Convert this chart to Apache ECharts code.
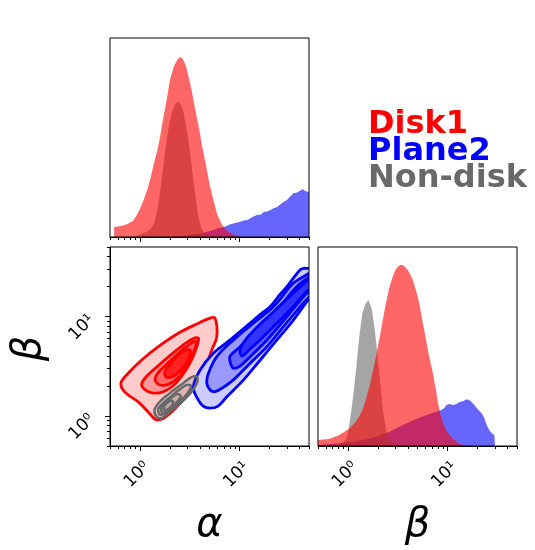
<!DOCTYPE html>
<html><head><meta charset="utf-8">
<script src="https://cdn.jsdelivr.net/npm/echarts@6/dist/echarts.min.js"></script>
<style>html,body{margin:0;padding:0;background:#fff}#c{width:535px;height:550px}</style>
</head><body><div id="c"></div>
<script>
// ---------- names / colours ----------
const seriesNames = ['Disk1', 'Plane2', 'Non-disk'];
const seriesColors = ['#ff0000', '#0000ff', '#696969'];
const axisRange = [0.5, 50];
const majorTicks = [1, 10];
const majorTickLabels = ['10⁰', '10¹'];
const minorTicks = [0.5, 0.6, 0.7, 0.8, 0.9, 2, 3, 4, 5, 6, 7, 8, 9, 20, 30, 40, 50];

// ---------- marginal of alpha (top-left) : [alpha, density] ----------
const disk1Alpha = [[0.55,0.10],[0.65,0.11],[0.75,0.13],[0.85,0.16],[0.93,0.22],[1.0,0.28],[1.1,0.38],[1.2,0.49],[1.3,0.62],[1.4,0.76],[1.5,0.87],[1.6,1.01],[1.7,1.17],[1.8,1.30],[1.9,1.43],[2.0,1.57],[2.2,1.71],[2.4,1.78],[2.55,1.80],[2.7,1.78],[2.9,1.71],[3.1,1.59],[3.3,1.47],[3.6,1.27],[3.9,1.10],[4.2,0.92],[4.6,0.72],[5.0,0.53],[5.5,0.36],[6.0,0.22],[6.7,0.12],[7.5,0.06],[8.5,0.03],[9.5,0.01],[11,0]];
const nonDiskAlpha = [[0.9,0.01],[1.0,0.02],[1.1,0.04],[1.2,0.06],[1.3,0.09],[1.4,0.15],[1.5,0.28],[1.6,0.46],[1.7,0.67],[1.8,0.87],[1.9,1.04],[2.0,1.16],[2.1,1.25],[2.25,1.32],[2.43,1.36],[2.6,1.32],[2.75,1.24],[2.9,1.12],[3.07,0.97],[3.25,0.78],[3.44,0.57],[3.65,0.37],[3.86,0.20],[4.1,0.10],[4.35,0.05],[4.7,0.02],[5.1,0.01],[5.5,0]];
const plane2Alpha = [[1.8,0],[2.2,0.005],[2.6,0.01],[3.0,0.015],[3.5,0.025],[4.0,0.033],[4.5,0.045],[5.0,0.06],[5.5,0.07],[6.0,0.085],[7.0,0.10],[8.0,0.125],[9.0,0.14],[10,0.15],[11,0.165],[12,0.17],[13.5,0.20],[15,0.22],[16.5,0.225],[17.5,0.25],[19,0.255],[20.5,0.27],[22,0.287],[24,0.30],[26,0.33],[28,0.353],[30,0.37],[32,0.40],[35,0.437],[38,0.445],[41,0.465],[43,0.477],[44,0.49],[45,0.46],[47,0.455],[50,0.45]];

// ---------- marginal of beta (bottom-right) : [beta, density] ----------
const disk1Beta = [[0.49,0.06],[0.64,0.07],[0.81,0.107],[1.02,0.17],[1.15,0.22],[1.29,0.29],[1.4,0.36],[1.51,0.46],[1.63,0.58],[1.76,0.727],[1.9,0.88],[2.06,1.06],[2.23,1.25],[2.41,1.427],[2.6,1.58],[2.81,1.69],[3.0,1.76],[3.16,1.79],[3.35,1.81],[3.55,1.81],[3.75,1.79],[3.99,1.76],[4.2,1.72],[4.48,1.66],[4.75,1.58],[5.04,1.49],[5.35,1.37],[5.66,1.227],[6.0,1.10],[6.35,0.96],[6.7,0.85],[7.14,0.727],[7.6,0.58],[8.04,0.427],[8.5,0.32],[9.02,0.227],[9.7,0.16],[10.5,0.11],[11.4,0.07],[12.3,0.043],[13.3,0.02],[14.4,0.01],[16,0.003],[17.8,0]];
const nonDiskBeta = [[0.7,0.01],[0.8,0.02],[0.9,0.04],[0.95,0.06],[1.0,0.12],[1.05,0.27],[1.1,0.41],[1.15,0.57],[1.2,0.74],[1.25,0.92],[1.3,1.09],[1.35,1.22],[1.4,1.33],[1.5,1.42],[1.6,1.46],[1.7,1.40],[1.76,1.33],[1.85,1.18],[1.91,1.06],[2.0,0.86],[2.06,0.73],[2.15,0.55],[2.23,0.39],[2.32,0.26],[2.41,0.16],[2.55,0.08],[2.7,0.04],[3.0,0.015],[3.3,0.005],[3.6,0]];
const plane2Beta = [[0.49,0.01],[0.875,0.03],[1.3,0.05],[1.91,0.093],[2.6,0.14],[3.55,0.21],[4.85,0.27],[6.62,0.32],[8.69,0.36],[9.3,0.38],[9.77,0.41],[10.5,0.42],[11.4,0.41],[12.3,0.42],[13.3,0.44],[14.5,0.45],[15.6,0.467],[16.5,0.46],[17.5,0.44],[18.6,0.41],[19.7,0.377],[20.9,0.35],[22.1,0.327],[23.4,0.28],[24.8,0.21],[26.3,0.16],[27.9,0.127],[29.6,0.11],[30.1,0.11],[30.1,0]];

// ---------- 2D contours (alpha, beta), outer to inner ----------
const disk1Level1 = [[5.69,9.64],[5.92,6.29],[5.27,4.62],[4.70,3.40],[4.02,2.49],[3.06,1.69],[2.53,1.34],[2.00,1.06],[1.65,0.93],[1.42,0.93],[1.21,1.10],[0.96,1.39],[0.76,1.63],[0.66,1.90],[0.65,2.21],[0.76,2.69],[1.04,3.66],[1.53,4.99],[2.43,6.80],[3.87,8.58],[5.07,9.64]];
const disk1Level2 = [[3.87,6.06],[3.75,5.07],[3.34,3.75],[2.77,2.71],[2.20,2.05],[1.71,1.75],[1.32,1.71],[1.10,1.87],[1.04,2.10],[1.15,2.47],[1.52,3.19],[2.10,4.21],[2.91,5.43],[3.58,6.10]];
const disk1Level3 = [[3.71,5.56],[3.50,4.52],[3.04,3.34],[2.53,2.53],[1.96,2.10],[1.59,2.05],[1.42,2.31],[1.52,2.71],[1.91,3.42],[2.59,4.52],[3.42,5.56]];
const disk1Level4 = [[3.19,4.62],[3.11,3.84],[2.71,3.04],[2.20,2.53],[1.83,2.47],[1.79,2.84],[2.10,3.50],[2.65,4.42]];

const plane2Level1 = [[3.44,1.97],[3.75,1.52],[4.31,1.26],[5.07,1.20],[6.10,1.26],[7.46,1.56],[11.0,2.31],[16.2,3.66],[23.8,5.82],[35.0,9.27],[47.7,14.2],[58,18.5],[58,33],[50.4,30.7],[44,30.5],[40.8,29.5],[35,24.5],[30.0,20.0],[25,16.2],[20.4,12.6],[16,10.4],[12.8,8.58],[8.06,5.82],[5.47,4.28],[4.02,2.90]];
const plane2Level2 = [[4.70,2.13],[5.07,1.83],[5.69,1.76],[6.70,1.91],[8.70,2.31],[12.8,3.40],[18.9,4.99],[27.7,7.93],[40.8,12.6],[58,19.5],[58,31],[50.4,27.4],[35.0,21.7],[22.0,12.6],[13.8,8.58],[8.70,5.82],[5.92,3.95],[4.88,2.69]];
const plane2Level3 = [[8.06,3.50],[8.70,3.02],[10.2,3.19],[12.8,3.95],[18.9,5.82],[30.0,10.0],[44.2,15.9],[58,21],[58,29],[50.4,25.3],[37.8,20.0],[23.8,11.7],[15.0,7.35],[10.2,4.99],[8.06,4.02]];
const plane2Level4 = [[10.6,4.02],[12.8,4.73],[16.9,6.10],[22.9,8.25],[32.4,11.7],[45.9,17.3],[58,21.8],[58,26],[40.8,19.9],[28.8,14.4],[20.4,10.4],[15.1,7.87],[11.7,5.96],[10.2,4.73]];

const nonDiskLevel1 = [[1.48,0.98],[1.40,1.15],[1.59,1.40],[2.00,1.70],[2.65,2.10],[3.34,2.48],[3.75,2.48],[3.72,2.12],[3.25,1.72],[2.56,1.35],[2.00,1.11],[1.67,0.96]];
const nonDiskLevel2 = [[1.59,1.03],[1.53,1.18],[1.79,1.40],[2.25,1.70],[2.91,2.05],[3.25,2.02],[2.95,1.65],[2.33,1.32],[1.87,1.09]];
const nonDiskLevel3 = [[1.67,1.08],[1.65,1.23],[1.91,1.43],[2.36,1.66],[2.58,1.58],[2.22,1.30],[1.87,1.11]];
const nonDiskLevel4 = [[1.75,1.14],[1.78,1.29],[2.05,1.43],[2.17,1.36],[1.96,1.19]];

// ---------- build ----------
const L = Math.log10;
const lo = L(axisRange[0]), hi = L(axisRange[1]);
const FONT = 'DejaVu Sans';

function rgba(hex, a) {
  const n = parseInt(hex.slice(1), 16);
  return 'rgba(' + (n >> 16 & 255) + ',' + (n >> 8 & 255) + ',' + (n & 255) + ',' + a + ')';
}

const grids = [
  { left: 110, top: 38, width: 199, height: 199 },
  { left: 110, top: 247, width: 199, height: 199 },
  { left: 318, top: 247, width: 199, height: 199 }
].map(g => Object.assign({ show: true, borderColor: '#000', borderWidth: 1, backgroundColor: 'rgba(0,0,0,0)', z: 5 }, g));

const LABEL_SIZE = 17;
const xFmt = v => '{t|' + majorTickLabels[Math.round(v)] + '}{g|}';
const yFmt = v => majorTickLabels[Math.round(v)];

function dataAxis(gridIndex, pos) {
  return { type: 'log', logBase: 10, gridIndex, position: pos, min: axisRange[0], max: axisRange[1], show: false };
}
function tickAxis(gridIndex, pos, major, label) {
  const o = {
    type: 'value', gridIndex, position: pos, min: lo, max: hi,
    splitLine: { show: false },
    axisLine: { show: major, onZero: false, lineStyle: { color: '#000', width: 1 } },
    axisTick: { show: true, customValues: (major ? majorTicks : minorTicks).map(L), length: major ? 5 : 3, lineStyle: { color: '#000', width: 1 } },
    axisLabel: { show: false }
  };
  if (label === 'x') {
    o.axisLabel = { show: true, customValues: majorTicks.map(L), rotate: 45, fontSize: LABEL_SIZE, fontFamily: FONT, color: '#000',
      align: 'center', verticalAlign: 'middle', margin: 26, formatter: xFmt,
      rich: { t: { fontSize: LABEL_SIZE, fontFamily: FONT, color: '#000' }, g: { width: 8 } } };
  } else if (label === 'y') {
    o.axisLabel = { show: true, customValues: majorTicks.map(L), rotate: 45, fontSize: LABEL_SIZE, fontFamily: FONT, color: '#000',
      align: 'center', verticalAlign: 'top', lineHeight: 31, margin: 39, formatter: yFmt };
  }
  return o;
}
function densAxis(gridIndex) {
  return { type: 'value', gridIndex, min: 0, max: 1.99, show: false, splitLine: { show: false } };
}

const xAxis = [
  dataAxis(0, 'bottom'), tickAxis(0, 'bottom', true, null), tickAxis(0, 'bottom', false, null),
  dataAxis(1, 'bottom'), tickAxis(1, 'bottom', true, 'x'), tickAxis(1, 'bottom', false, null),
  dataAxis(2, 'bottom'), tickAxis(2, 'bottom', true, 'x'), tickAxis(2, 'bottom', false, null)
];
const yAxis = [
  densAxis(0),
  dataAxis(1, 'left'), tickAxis(1, 'left', true, 'y'), tickAxis(1, 'left', false, null),
  densAxis(2)
];

function hist(name, data, color, xi, yi) {
  return { type: 'line', name, data, xAxisIndex: xi, yAxisIndex: yi, symbol: 'none', silent: true,
    lineStyle: { width: 0, opacity: 0 }, areaStyle: { color: rgba(color, 0.6), opacity: 1 }, animation: false };
}
function contour(name, rings, fills, stroke, lw, xi, yi) {
  return { type: 'custom', name, xAxisIndex: xi, yAxisIndex: yi, clip: true, silent: true, animation: false,
    data: rings.map((r, i) => [r[0][0], r[0][1], i]), encode: { x: 0, y: 1 },
    renderItem: (params, api) => {
      const ring = rings[params.dataIndex];
      return { type: 'polygon', shape: { points: ring.map(p => api.coord(p)), smooth: 0.35 },
        style: { fill: fills[params.dataIndex], stroke, lineWidth: lw } };
    } };
}

const series = [
  hist(seriesNames[1], plane2Alpha, seriesColors[1], 0, 0),
  hist(seriesNames[2], nonDiskAlpha, seriesColors[2], 0, 0),
  hist(seriesNames[0], disk1Alpha, seriesColors[0], 0, 0),
  hist(seriesNames[1], plane2Beta, seriesColors[1], 6, 4),
  hist(seriesNames[2], nonDiskBeta, seriesColors[2], 6, 4),
  hist(seriesNames[0], disk1Beta, seriesColors[0], 6, 4),
  contour(seriesNames[0], [disk1Level1, disk1Level2, disk1Level3, disk1Level4], ['#ffcccc', '#ff9999', '#ff6666', '#ff2020'], seriesColors[0], 2.8, 3, 1),
  contour(seriesNames[1], [plane2Level1, plane2Level2, plane2Level3, plane2Level4], ['#ccccff', '#9999ff', '#6666ff', '#3333ff'], seriesColors[1], 2.8, 3, 1),
  contour(seriesNames[2], [nonDiskLevel1, nonDiskLevel2, nonDiskLevel3, nonDiskLevel4], [rgba(seriesColors[2], 0.12), rgba(seriesColors[2], 0.12), rgba(seriesColors[2], 0.12), rgba(seriesColors[2], 0.12)], seriesColors[2], 2.5, 3, 1)
];

const legendY = [124.5, 151.5, 178.5];
const graphic = seriesNames.map((n, i) => ({
  type: 'text', x: 368, y: legendY[i], z: 10,
  style: { text: n, fill: seriesColors[i], font: 'bold 32px "' + FONT + '"', align: 'left', verticalAlign: 'middle' }
})).concat([
  { type: 'text', x: 209.5, y: 526, style: { text: 'α', fill: '#000', font: 'italic 40px "' + FONT + '"', align: 'center', verticalAlign: 'middle' } },
  { type: 'text', x: 417.5, y: 526, style: { text: 'β', fill: '#000', font: 'italic 40px "' + FONT + '"', align: 'center', verticalAlign: 'middle' } },
  { type: 'text', x: 30, y: 348.5, rotation: Math.PI / 2, style: { text: 'β', fill: '#000', font: 'italic 40px "' + FONT + '"', align: 'center', verticalAlign: 'middle' } }
]);

const chart = echarts.init(document.getElementById('c'), null, { renderer: 'canvas' });
chart.setOption({ animation: false, backgroundColor: '#fff', grid: grids, xAxis, yAxis, series, graphic });
</script></body></html>
